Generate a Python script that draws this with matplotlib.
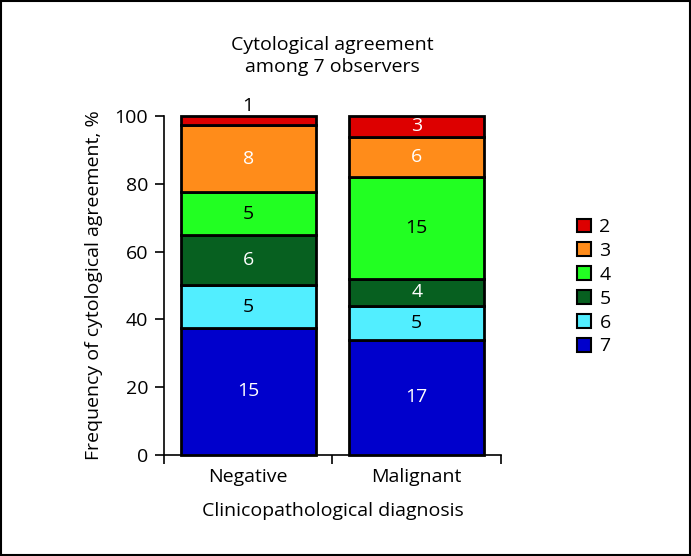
import numpy as np
import matplotlib
matplotlib.use("Agg")
import matplotlib.pyplot as plt
from matplotlib.patches import Patch, Rectangle

plt.rcParams['font.family'] = ['Open Sans', 'DejaVu Sans']

# data: number of cases per agreement level (7 observers)
categories = ['Negative', 'Malignant']
levels = ['7', '6', '5', '4', '3', '2']
counts = {
    'Negative':  [15, 5, 6, 5, 8, 1],
    'Malignant': [17, 5, 4, 15, 6, 3],
}
colors = ['#0000cc', '#52eeff', '#076020', '#22ff22', '#ff8c1a', '#dd0000']
text_colors = ['white', 'black', 'white', 'black', 'white', 'white']

FS = 14

fig = plt.figure(figsize=(6.91, 5.56), dpi=100)
ax = fig.add_axes([0.2373, 0.1824, 0.4877, 0.6084])

x = np.arange(len(categories)) + 0.5
width = 0.8
for i, cat in enumerate(categories):
    c = np.array(counts[cat], dtype=float)
    pct = c / c.sum() * 100
    bottom = 0
    for j, (v, n) in enumerate(zip(pct, c)):
        ax.bar(x[i], v, width, bottom=bottom, color=colors[j],
               edgecolor='black', linewidth=2, clip_on=False, zorder=3)
        if v < 5:
            ax.text(x[i], bottom + v + 0.4, '%d' % n, ha='center', va='bottom',
                    fontsize=FS, color='black')
        else:
            ax.text(x[i], bottom + v / 2, '%d' % n, ha='center', va='center',
                    fontsize=FS, color=text_colors[j], zorder=4)
        bottom += v

ax.set_xlim(0, 2)
ax.set_ylim(0, 100)
ax.set_yticks([0, 20, 40, 60, 80, 100])
ax.set_xticks([0, 1, 2])
ax.set_xticklabels([])
ax.set_xticks(x, minor=True)
ax.set_xticklabels(categories, minor=True)
ax.tick_params(axis='x', which='minor', length=0, pad=10, labelsize=FS)
ax.tick_params(axis='x', which='major', length=6.5, width=1.2, direction='out')
ax.tick_params(axis='y', length=6.5, width=1.2, direction='out', labelsize=FS, pad=5)
ax.spines['top'].set_visible(False)
ax.spines['right'].set_visible(False)
ax.spines['left'].set_linewidth(1.2)
ax.spines['bottom'].set_linewidth(1.2)

ax.set_ylabel('Frequency of cytological agreement, %', fontsize=FS, labelpad=8)
ax.set_xlabel('Clinicopathological diagnosis', fontsize=FS, labelpad=11)
ax.set_title('Cytological agreement\namong 7 observers', fontsize=FS,
             pad=32, linespacing=1.25)

handles = [Patch(facecolor=colors[j], edgecolor='black', linewidth=1.5,
                 label=levels[j]) for j in range(len(levels) - 1, -1, -1)]
fig.legend(handles=handles, loc='center left', bbox_to_anchor=(0.809, 0.484),
           frameon=False, fontsize=FS, handlelength=0.72, handleheight=0.72,
           handletextpad=0.46, labelspacing=0.3)

# frame around the whole figure
fig.patches.append(Rectangle((0.001, 0.001), 0.997, 0.997, transform=fig.transFigure,
                             fill=False, edgecolor='black', linewidth=1.5))

fig.savefig('out.png', dpi=100)
